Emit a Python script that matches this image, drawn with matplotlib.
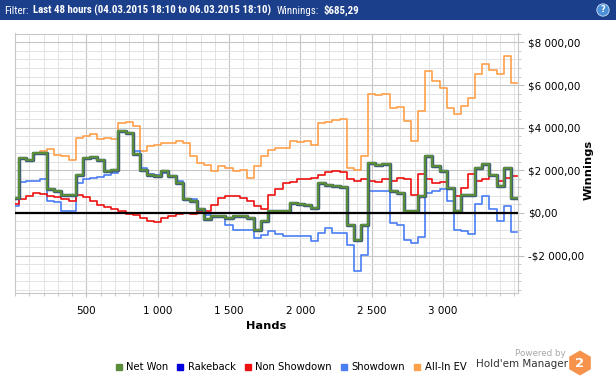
import matplotlib
matplotlib.use("Agg")
import matplotlib.pyplot as plt
import matplotlib.patheffects as pe
from matplotlib import font_manager as fm
from matplotlib.lines import Line2D
from matplotlib.patches import Rectangle, RegularPolygon
from matplotlib.ticker import MultipleLocator, FuncFormatter

# hands played (one sample every 50 hands, last = end of session)
hands = list(range(0, 3501, 50)) + [3519]

net_won = [700, 2580, 2500, 2820, 2820, 1100, 1050, 860, 860, 1800,
           2580, 2610, 2500, 1960, 1990, 3840, 3760, 2770, 2030, 1770,
           1720, 1960, 1720, 1410, 630, 550, 160, -310, -160, -160,
           -230, -160, -160, -230, -780, -390, 80, 80, 110, 470,
           420, 390, 235, 1410, 1330, 1250, 1200, -550, -1250, -550,
           2350, 2270, 2300, 1020, 940, 80, 80, 780, 2660, 2190,
           1960, 1170, 80, 860, 860, 2110, 2300, 1800, 1250, 2110,
           690, 690]

showdown = [300, 1460, 1490, 1520, 1570, 550, 520, 110, 110, 1410,
            1570, 1640, 1680, 1800, 1860, 3800, 3710, 2900, 2110, 1830,
            1800, 1880, 1720, 1490, 630, 630, 200, -80, -190, -200,
            -550, -780, -780, -780, -1170, -1020, -860, -990, -1100, -1100,
            -1100, -1100, -1300, -940, -700, -940, -940, -1490, -2710, -1960,
            1050, 1050, 1020, -470, -550, -1250, -1410, -1140, 940, 1050,
            1100, 580, -810, -830, -990, 420, 780, 160, -360, 310,
            -890, -890]

non_showdown = [400, 670, 780, 940, 910, 780, 740, 630, 580, 860,
                740, 550, 390, 270, 160, 80, -50, -120, -235, -360,
                -440, -235, -160, -50, 0, -50, 80, 110, 390, 700,
                810, 780, 700, 550, 310, 160, 860, 1140, 1410, 1460,
                1570, 1570, 1640, 1800, 1920, 1960, 1920, 1570, 1520, 1610,
                1490, 1460, 1570, 1520, 1640, 1570, 860, 1830, 1570, 1410,
                1460, 1170, 780, 1170, 1830, 1520, 1570, 1720, 1490, 1640,
                1720, 1720]

all_in_ev = [700, 2580, 2500, 2820, 2900, 3020, 2710, 2660, 2470, 3520,
             3600, 3710, 3490, 3520, 3490, 4230, 4270, 4070, 2900, 3130,
             3180, 3290, 3290, 3370, 3290, 2660, 2350, 2270, 1960, 2190,
             2110, 1960, 2030, 1640, 2190, 2660, 2970, 3050, 3050, 3370,
             3330, 3370, 3210, 4230, 4270, 4340, 4430, 2110, 1990, 2660,
             5560, 5530, 5560, 4930, 4960, 4300, 3370, 4780, 6650, 6180,
             5870, 4930, 4620, 5010, 5400, 6500, 6970, 6730, 6500, 7360,
             6110, 6110]

series_names = ["Net Won", "Rakeback", "Non Showdown", "Showdown", "All-In EV"]
series_colors = ["#5b8c3a", "#0000dd", "#ee1111", "#4a7ef5", "#ffa04a"]

x_ticks = [500, 1000, 1500, 2000, 2500, 3000]

# narrowest available face for the header line
fonts = fm.fontManager.ttflist
head_family, head_stretch = "Liberation Sans", "normal"
for f in fonts:
    if f.name in ("Liberation Sans Narrow", "Roboto Condensed", "Open Sans Condensed"):
        head_family, head_stretch = f.name, "normal"
        break
    if f.name == "DejaVu Sans" and f.stretch == "condensed":
        head_family, head_stretch = "DejaVu Sans", "condensed"
plt.rcParams["font.family"] = ["DejaVu Sans"]

W, H = 616, 380
fig = plt.figure(figsize=(W / 100, H / 100), dpi=100)

# header bar
fig.add_artist(Rectangle((0, 1 - 20 / H), 1, 20 / H, transform=fig.transFigure,
                         facecolor="#1b3f8b", edgecolor="none", zorder=0))
renderer = fig.canvas.get_renderer()
parts = [("Filter:", "normal", 5), ("Last 48 hours (04.03.2015 18:10 to 06.03.2015 18:10)", "bold", 5),
         ("Winnings:", "normal", 5), ("$685,29", "bold", 0)]
xpos = 4
for txt, weight, gap in parts:
    t = fig.text(xpos / W, 1 - 10.5 / H, txt, color="white", fontsize=7.8, family=head_family,
                 fontstretch=head_stretch, fontweight=weight, ha="left", va="center")
    xpos += t.get_window_extent(renderer).width + gap
fig.text(603 / W, 1 - 10 / H, "?", ha="center", va="center", fontsize=6, color="white",
         fontweight="bold", bbox=dict(boxstyle="circle,pad=0.2", fc="#4a8fd8", ec="#cfe0f5", lw=0.6))

# main plot
ax = fig.add_axes([15 / W, 1 - 293 / H, 503 / W, 259.5 / H])
ax.plot(hands, all_in_ev, drawstyle="steps-mid", color=series_colors[4], lw=1.2, zorder=2)
ax.plot(hands, showdown, drawstyle="steps-mid", color=series_colors[3], lw=1.2, zorder=3)
ax.plot(hands, non_showdown, drawstyle="steps-mid", color=series_colors[2], lw=1.2, zorder=3)
ax.plot(hands, net_won, drawstyle="steps-mid", color=series_colors[0], lw=1.5, zorder=4,
        path_effects=[pe.Stroke(linewidth=2.5, foreground="#3f5f78"), pe.Normal()])
ax.axhline(0, color="black", lw=1.6, zorder=5)

ax.set_xlim(0, 3525)
ax.set_ylim(-3760, 8420)

ax.xaxis.set_minor_locator(MultipleLocator(100))
ax.set_xticks(x_ticks)
ax.xaxis.set_major_formatter(FuncFormatter(lambda v, p: f"{int(v):,}".replace(",", " ")))
ax.yaxis.set_major_locator(MultipleLocator(2000))
ax.yaxis.set_minor_locator(MultipleLocator(400))


def dollars(v, pos):
    s = f"{abs(v):,.2f}".replace(",", " ").replace(".", ",")
    return ("-$" if v < 0 else "$") + s


ax.yaxis.set_major_formatter(FuncFormatter(dollars))
ax.yaxis.tick_right()
ax.grid(True, which="major", color="#c6c6c6", lw=0.8)
ax.grid(True, which="minor", color="#e3e3e3", lw=0.7)
ax.set_axisbelow(True)
for sp in ax.spines.values():
    sp.set_color("#c8c8c8")
    sp.set_linewidth(0.8)
ax.tick_params(axis="both", which="both", color="#c0c0c0", labelsize=7.5, labelcolor="black")
ax.tick_params(axis="x", which="major", length=3, pad=6)
ax.tick_params(axis="x", which="minor", length=2)
ax.tick_params(axis="y", which="major", length=4, pad=3)
ax.tick_params(axis="y", which="minor", length=2)

ax.set_xlabel("Hands", fontsize=8.2, fontweight="bold", labelpad=4)
fig.text(589 / W, 1 - 170 / H, "Winnings", rotation=90, fontsize=8.2, fontweight="bold",
         ha="center", va="center")

# legend
handles = [Line2D([0], [0], marker="s", linestyle="none", markersize=4.5,
                  color=c, label=n) for n, c in zip(series_names, series_colors)]
fig.legend(handles=handles, loc="center", bbox_to_anchor=(291 / W, 1 - 367 / H), ncol=5,
           frameon=False, fontsize=7.2, handlelength=0.6, handletextpad=0.45,
           columnspacing=0.9, borderpad=0)

# "Powered by" logo
fig.text(540 / W, 1 - 353 / H, "Powered by", fontsize=6.3, color="#a8a8a8", ha="center", va="center")
fig.text(522 / W, 1 - 364 / H, "Hold'em Manager", fontsize=7.5, color="#333333", ha="center", va="center")
lax = fig.add_axes([566 / W, 1 - 377 / H, 28 / W, 28 / H])
lax.set_xlim(0, 28)
lax.set_ylim(0, 28)
lax.set_aspect("equal")
lax.set_axis_off()
lax.add_patch(RegularPolygon((14, 14), numVertices=6, radius=12.5, orientation=0,
                             facecolor="#f7924a", edgecolor="none"))
lax.text(14, 13.5, "2", ha="center", va="center", fontsize=9.5, fontweight="bold", color="white")

fig.savefig("out.png", dpi=100)
